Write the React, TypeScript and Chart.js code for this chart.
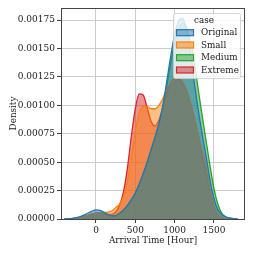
import React, { useEffect, useRef } from "react";
import { Chart, registerables } from "chart.js";

Chart.register(...registerables);

const xs = [-400, -350, -300, -250, -200, -150, -100, -50, 0, 50, 100, 150, 200, 250, 300, 350, 400, 450, 500, 550, 600, 650, 700, 750, 800, 850, 900, 950, 1000, 1050, 1100, 1150, 1200, 1250, 1300, 1350, 1400, 1450, 1500, 1550, 1600, 1650, 1700, 1750, 1800];

const original = [0, 0.000002, 0.000006, 0.000012, 0.000022, 0.000036, 0.000053, 0.000069, 0.00008, 0.000076, 0.00006, 0.00004, 0.000028, 0.00003, 0.00005, 0.00008, 0.00012, 0.00017, 0.00023, 0.00031, 0.0004, 0.0005, 0.00061, 0.00072, 0.00084, 0.001, 0.00121, 0.00143, 0.00162, 0.00174, 0.001765, 0.00166, 0.00146, 0.0012, 0.00096, 0.00075, 0.00055, 0.00034, 0.00018, 0.00008, 0.00004, 0.00002, 0.00001, 0.000004, 0];
const small = [0, 0.000002, 0.000004, 0.000008, 0.000014, 0.000022, 0.000032, 0.000044, 0.000052, 0.000056, 0.000056, 0.00006, 0.00007, 0.0001, 0.00013, 0.0002, 0.00033, 0.00055, 0.00077, 0.00093, 0.00099, 0.00099, 0.00097, 0.00097, 0.001, 0.00106, 0.00114, 0.0012, 0.00123, 0.00124, 0.00121, 0.00114, 0.00103, 0.0009, 0.00074, 0.0006, 0.00045, 0.00026, 0.00011, 0.00004, 0.000015, 0.000005, 0, 0, 0];
const medium = [0, 0.000002, 0.000004, 0.000008, 0.000014, 0.000022, 0.000032, 0.000044, 0.000052, 0.000054, 0.000046, 0.000034, 0.000027, 0.00003, 0.00005, 0.00008, 0.00012, 0.00017, 0.00022, 0.0003, 0.00039, 0.00049, 0.0006, 0.00071, 0.00083, 0.00098, 0.00117, 0.00137, 0.00155, 0.00167, 0.00172, 0.00169, 0.00157, 0.00138, 0.00114, 0.00091, 0.00069, 0.00047, 0.00027, 0.00013, 0.00005, 0.000018, 0.000006, 0.000002, 0];
const extreme = [0, 0.000002, 0.000004, 0.000008, 0.000014, 0.000022, 0.000032, 0.000044, 0.000052, 0.000056, 0.00005, 0.00004, 0.00004, 0.00006, 0.00012, 0.00024, 0.00045, 0.00073, 0.00097, 0.0011, 0.00109, 0.00098, 0.00086, 0.00082, 0.00087, 0.00098, 0.00111, 0.0012, 0.00123, 0.00123, 0.0012, 0.00113, 0.00102, 0.00089, 0.00074, 0.00058, 0.00042, 0.00025, 0.00011, 0.00004, 0.00001, 0, 0, 0, 0];

const seriesNames = ["Original", "Small", "Medium", "Extreme"];
const seriesColors = ["#1f77b4", "#ff7f0e", "#2ca02c", "#d62728"];
const seriesValues = [original, small, medium, extreme];
const xTickValues = [0, 500, 1000, 1500];
const yTickValues = [0, 0.00025, 0.0005, 0.00075, 0.001, 0.00125, 0.0015, 0.00175];
const legendTitle = "case";
const xTitle = "Arrival Time [Hour]";
const yTitle = "Density";

const FONT = "'DejaVu Serif', serif";

function hexA(hex: string, a: number) {
  const r = parseInt(hex.slice(1, 3), 16);
  const g = parseInt(hex.slice(3, 5), 16);
  const b = parseInt(hex.slice(5, 7), 16);
  return `rgba(${r},${g},${b},${a})`;
}

const framePlugin = {
  id: "frame",
  afterDatasetsDraw(chart: any) {
    const { ctx, chartArea } = chart;
    ctx.save();
    ctx.strokeStyle = "#444";
    ctx.lineWidth = 1;
    ctx.strokeRect(chartArea.left + 0.5, chartArea.top + 0.5, chartArea.right - chartArea.left - 1, chartArea.bottom - chartArea.top);
    ctx.restore();
  },
};

const legendPlugin = {
  id: "customLegend",
  afterDraw(chart: any) {
    const { ctx } = chart;
    const x0 = 173.5, y0 = 13.5, w = 67, h = 65;
    ctx.save();
    ctx.beginPath();
    const r = 2;
    ctx.moveTo(x0 + r, y0);
    ctx.lineTo(x0 + w - r, y0);
    ctx.quadraticCurveTo(x0 + w, y0, x0 + w, y0 + r);
    ctx.lineTo(x0 + w, y0 + h - r);
    ctx.quadraticCurveTo(x0 + w, y0 + h, x0 + w - r, y0 + h);
    ctx.lineTo(x0 + r, y0 + h);
    ctx.quadraticCurveTo(x0, y0 + h, x0, y0 + h - r);
    ctx.lineTo(x0, y0 + r);
    ctx.quadraticCurveTo(x0, y0, x0 + r, y0);
    ctx.closePath();
    ctx.fillStyle = "rgba(255,255,255,0.8)";
    ctx.fill();
    ctx.strokeStyle = "rgba(204,204,204,0.8)";
    ctx.lineWidth = 1;
    ctx.stroke();
    ctx.fillStyle = "#1a1a1a";
    ctx.font = `8.8px ${FONT}`;
    ctx.textBaseline = "middle";
    ctx.textAlign = "center";
    ctx.fillText(legendTitle, 204, 20.5);
    ctx.textAlign = "left";
    const rows = [32.7, 45, 57.7, 70];
    seriesNames.forEach((name, i) => {
      const cy = rows[i];
      ctx.fillStyle = hexA(seriesColors[i], 0.5);
      ctx.fillRect(176.5, cy - 3, 17, 6);
      ctx.strokeStyle = seriesColors[i];
      ctx.lineWidth = 1.2;
      ctx.strokeRect(176.5, cy - 3, 17, 6);
      ctx.fillStyle = "#1a1a1a";
      ctx.fillText(name, 201, cy + 0.5);
    });
    ctx.restore();
  },
};

export default function App() {
  const ref = useRef<HTMLCanvasElement | null>(null);
  useEffect(() => {
    if (!ref.current) return;
    const datasets = seriesNames.map((name, i) => ({
      label: name,
      data: xs.map((x, j) => ({ x, y: seriesValues[i][j] })),
      borderColor: seriesColors[i],
      backgroundColor: hexA(seriesColors[i], 0.5),
      borderWidth: 1.3,
      fill: "origin",
      pointRadius: 0,
      tension: 0.4,
      cubicInterpolationMode: "monotone" as const,
    }));
    const chart = new Chart(ref.current, {
      type: "line",
      data: { datasets },
      options: {
        animation: false,
        responsive: false,
        layout: { padding: { top: 8, right: 9, left: 8, bottom: 8 } },
        plugins: { legend: { display: false }, tooltip: { enabled: false } },
        scales: {
          x: {
            type: "linear",
            min: -445,
            max: 1895,
            afterFit: (s: any) => { s.height = 27; },
            afterBuildTicks: (s: any) => { s.ticks = xTickValues.map((v) => ({ value: v })); },
            ticks: { color: "#1a1a1a", font: { family: FONT, size: 9 }, padding: 2, maxRotation: 0, autoSkip: false, callback: (v: any) => String(v) },
            grid: { color: "#cccccc", lineWidth: 1, tickLength: 4, tickColor: "#444", drawTicks: true },
            border: { display: false },
            title: { display: true, text: xTitle, color: "#1a1a1a", font: { family: FONT, size: 8.8 }, padding: { top: 0, bottom: 0 } },
          },
          y: {
            type: "linear",
            min: 0,
            max: 0.001856,
            afterFit: (s: any) => { s.width = 53; },
            afterBuildTicks: (s: any) => { s.ticks = yTickValues.map((v) => ({ value: v })); },
            ticks: { color: "#1a1a1a", font: { family: FONT, size: 9 }, padding: 2, callback: (v: any) => Number(v).toFixed(5), autoSkip: false },
            grid: { color: "#cccccc", lineWidth: 1, tickLength: 4, tickColor: "#444", drawTicks: true },
            border: { display: false },
            title: { display: true, text: yTitle, color: "#1a1a1a", font: { family: FONT, size: 8.8 }, padding: { top: 0, bottom: 0 } },
          },
        },
      },
      plugins: [framePlugin, legendPlugin],
    });
    return () => chart.destroy();
  }, []);
  return (
    <div style={{ position: "fixed", left: 0, top: 0, width: 254, height: 254, background: "#fff" }}>
      <canvas ref={ref} width={254} height={254} style={{ width: 254, height: 254 }} />
    </div>
  );
}
